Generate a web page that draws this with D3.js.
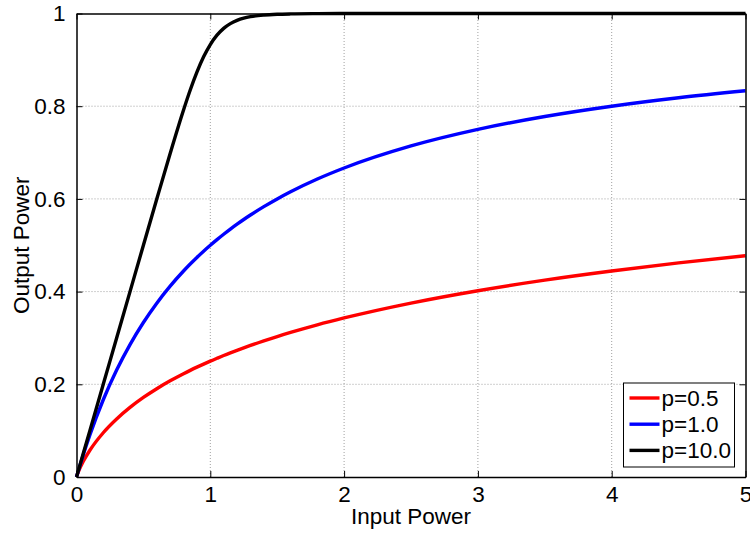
<!DOCTYPE html>
<html>
<head>
<meta charset="utf-8">
<script src="https://cdnjs.cloudflare.com/ajax/libs/d3/7.8.5/d3.min.js"></script>
<style>
  body { margin: 0; background: white; }
  svg { font-family: "Liberation Sans", Arial, Helvetica, sans-serif; }
</style>
</head>
<body>
<div id="chart"></div>
<script>
// data
let inputPower = [0,0.01,0.02,0.05,0.1,0.2,0.3,0.4,0.5,0.6,0.7,0.8,0.85,0.9,0.95,1.0,1.05,1.1,1.15,1.2,1.25,1.3,1.4,1.5,1.6,1.8,2.0,2.5,3.0,3.5,4.0,4.5,5.0]
let outP05 = [0,0.0083,0.0154,0.0334,0.0577,0.0955,0.1252,0.1501,0.1716,0.1905,0.2075,0.2229,0.2301,0.2370,0.2436,0.25,0.2561,0.2621,0.2678,0.2733,0.2786,0.2838,0.2937,0.3031,0.3119,0.3283,0.3431,0.3752,0.4019,0.4247,0.4444,0.4619,0.4775]
let outP10 = [0,0.0099,0.0196,0.0476,0.0909,0.1667,0.2308,0.2857,0.3333,0.375,0.4118,0.4444,0.4595,0.4737,0.4872,0.5,0.5122,0.5238,0.5349,0.5455,0.5556,0.5652,0.5833,0.6,0.6154,0.6429,0.6667,0.7143,0.75,0.7778,0.8,0.8182,0.8333]
let outP100 = [0,0.01,0.02,0.05,0.1,0.2,0.3,0.4,0.5,0.5996,0.698,0.7918,0.8349,0.8735,0.9065,0.933,0.9532,0.9679,0.9781,0.9851,0.9899,0.9931,0.9966,0.9983,0.9991,0.9997,0.9999,1,1,1,1,1,1]
let seriesNames = ['p=0.5', 'p=1.0', 'p=10.0']
let seriesColors = ['#ff0000', '#0000ff', '#000000']
let xTicks = [0,1,2,3,4,5]
let yTicks = [0,0.2,0.4,0.6,0.8,1]

let width = 750,
    height = 533,
    margin = {left: 76.5, top: 13.5, right: 4.5, bottom: 56},
    fontSize = '22.5px'

let svg = d3.select('#chart')
  .append('svg')
  .attr('width', width)
  .attr('height', height)

let x = d3.scaleLinear().domain([0, 5]).range([margin.left, width - margin.right])
let y = d3.scaleLinear().domain([0, 1]).range([height - margin.bottom, margin.top])

// dotted grid
let grid = svg.append('g')
grid.selectAll('.gx').data(xTicks.slice(1, -1)).enter()
  .append('line')
  .attr('x1', d => x(d)).attr('x2', d => x(d))
  .attr('y1', y(0)).attr('y2', y(1))
grid.selectAll('.gy').data(yTicks.slice(1, -1)).enter()
  .append('line')
  .attr('x1', x(0)).attr('x2', x(5))
  .attr('y1', d => y(d)).attr('y2', d => y(d))
grid.selectAll('line')
  .attr('stroke', '#a0a0a0')
  .attr('stroke-width', 1)
  .attr('stroke-dasharray', '1,2')

// curves
let series = [outP05, outP10, outP100]
let line = d3.line()
  .x(d => x(d[0]))
  .y(d => y(d[1]))
  .curve(d3.curveMonotoneX)

series.forEach(function(vals, i){
  svg.append('path')
    .datum(inputPower.map((p, j) => [p, vals[j]]))
    .attr('d', line)
    .attr('fill', 'none')
    .attr('stroke', seriesColors[i])
    .attr('stroke-width', 3.4)
    .attr('stroke-linejoin', 'round')
})

// axes, ticks pointing inward on all sides (box on)
let tickLen = 6
svg.append('g')
  .attr('transform', 'translate(0,' + y(0) + ')')
  .call(d3.axisBottom(x).tickValues(xTicks).tickFormat(d3.format('d')).tickSizeInner(-tickLen).tickSizeOuter(0).tickPadding(9))
svg.append('g')
  .attr('transform', 'translate(0,' + y(1) + ')')
  .call(d3.axisTop(x).tickValues(xTicks).tickFormat('').tickSizeInner(-tickLen).tickSizeOuter(0))
svg.append('g')
  .attr('transform', 'translate(' + x(0) + ',0)')
  .call(d3.axisLeft(y).tickValues(yTicks).tickFormat(d3.format('')).tickSizeInner(-tickLen).tickSizeOuter(0).tickPadding(11))
svg.append('g')
  .attr('transform', 'translate(' + x(5) + ',0)')
  .call(d3.axisRight(y).tickValues(yTicks).tickFormat('').tickSizeInner(-tickLen).tickSizeOuter(0))

svg.selectAll('.domain').attr('stroke', '#000').attr('stroke-width', 1.5)
svg.selectAll('.tick line').attr('stroke', '#000').attr('stroke-width', 1)
svg.selectAll('.tick text')
  .attr('fill', '#000')
  .style('font-size', fontSize)
  .style('font-family', '"Liberation Sans", Arial, sans-serif')

// axis labels
svg.append('text')
  .attr('x', (x(0) + x(5)) / 2)
  .attr('y', 524)
  .attr('text-anchor', 'middle')
  .style('font-size', fontSize)
  .text('Input Power')
svg.append('text')
  .attr('transform', 'translate(29,' + (y(0) + y(1)) / 2 + ') rotate(-90)')
  .attr('text-anchor', 'middle')
  .style('font-size', fontSize)
  .text('Output Power')

// legend
let legend = svg.append('g').attr('transform', 'translate(623.5,383)')
legend.append('rect')
  .attr('width', 111)
  .attr('height', 84)
  .attr('fill', 'white')
  .attr('stroke', '#000')
  .attr('stroke-width', 1)
seriesNames.forEach(function(name, i){
  let row = legend.append('g').attr('transform', 'translate(0,' + (15 + i * 26.2) + ')')
  row.append('line')
    .attr('x1', 6).attr('x2', 36)
    .attr('stroke', seriesColors[i])
    .attr('stroke-width', 3.4)
  row.append('text')
    .attr('x', 38)
    .attr('dy', '0.35em')
    .style('font-size', fontSize)
    .text(name)
})
</script>
</body>
</html>
